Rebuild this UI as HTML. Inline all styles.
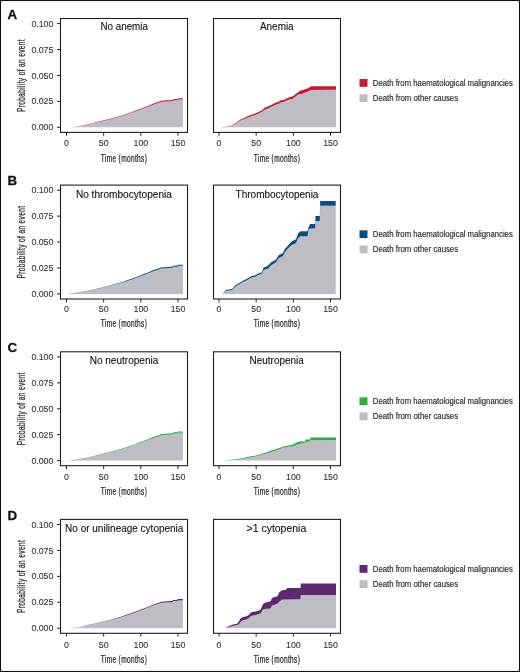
<!DOCTYPE html><html><head><meta charset="utf-8"><style>
html,body{margin:0;padding:0;background:#fff;}
svg{display:block;will-change:transform;}
text{font-family:"Liberation Sans",sans-serif;stroke-width:0.25px;}
</style></head><body>
<svg width="520" height="672" viewBox="0 0 520 672">
<rect x="0" y="0" width="520" height="672" fill="#fff"/>
<rect x="0.5" y="0.5" width="519" height="671" fill="none" stroke="#111" stroke-width="1.1"/>
<text x="7.6" y="18.7" font-size="13.3" font-weight="bold" style="stroke-width:0.3px" fill="#111" stroke="#111">A</text>
<text transform="translate(24.6,75.5) rotate(-90) scale(0.655,1)" font-size="10" letter-spacing="0.55" text-anchor="middle" fill="#231f20" stroke="#231f20">Probability of an event</text>
<polygon points="67.2,127.3 67.2,127.4 73.5,126.8 80,125.8 90,123.8 100,121.5 110,119 120,116.3 130,113 135,111.2 140,109.3 145,107.4 148,106.3 151.8,104.7 155.7,103.2 159.5,102.1 160.7,101.4 163.4,101.1 168,100.8 172.8,100.5 173.3,99.6 177.5,99.5 178,98.7 182.9,98.7 182.9,127.3" fill="#bebdc3"/>
<polygon points="67.2,127.4 73.5,126.77 80,125.73 90,123.68 100,121.33 110,118.78 120,116.04 130,112.7 135,110.87 140,108.93 145,107 148,105.88 151.8,104.25 155.7,102.73 159.5,101.6 160.7,100.9 163.4,100.59 168,100.28 172.8,99.97 173.3,99.07 177.5,98.97 178,98.16 182.9,98.15 182.9,99.25 178,99.24 177.5,100.03 173.3,100.13 172.8,101.03 168,101.32 163.4,101.61 160.7,101.9 159.5,102.6 155.7,103.67 151.8,105.15 148,106.72 145,107.8 140,109.67 135,111.53 130,113.3 120,116.56 110,119.22 100,121.67 90,123.92 80,125.87 73.5,126.83 67.2,127.4" fill="#c51b33"/>
<rect x="60.5" y="18.5" width="127" height="113.9" fill="none" stroke="#231f20" stroke-width="1.1"/>
<line x1="57" x2="60.5" y1="127.3" y2="127.3" stroke="#231f20" stroke-width="1"/>
<text x="53.4" y="130.4" font-size="8.8" text-anchor="end" style="stroke-width:0.1px" fill="#333" stroke="#333">0.000</text>
<line x1="57" x2="60.5" y1="101.38" y2="101.38" stroke="#231f20" stroke-width="1"/>
<text x="53.4" y="104.47" font-size="8.8" text-anchor="end" style="stroke-width:0.1px" fill="#333" stroke="#333">0.025</text>
<line x1="57" x2="60.5" y1="75.45" y2="75.45" stroke="#231f20" stroke-width="1"/>
<text x="53.4" y="78.55" font-size="8.8" text-anchor="end" style="stroke-width:0.1px" fill="#333" stroke="#333">0.050</text>
<line x1="57" x2="60.5" y1="49.53" y2="49.53" stroke="#231f20" stroke-width="1"/>
<text x="53.4" y="52.63" font-size="8.8" text-anchor="end" style="stroke-width:0.1px" fill="#333" stroke="#333">0.075</text>
<line x1="57" x2="60.5" y1="23.6" y2="23.6" stroke="#231f20" stroke-width="1"/>
<text x="53.4" y="26.7" font-size="8.8" text-anchor="end" style="stroke-width:0.1px" fill="#333" stroke="#333">0.100</text>
<line x1="66.5" x2="66.5" y1="132.4" y2="135.7" stroke="#231f20" stroke-width="1"/>
<text x="66.5" y="146.3" font-size="8.8" text-anchor="middle" style="stroke-width:0.1px" fill="#333" stroke="#333">0</text>
<line x1="103.67" x2="103.67" y1="132.4" y2="135.7" stroke="#231f20" stroke-width="1"/>
<text x="103.67" y="146.3" font-size="8.8" text-anchor="middle" style="stroke-width:0.1px" fill="#333" stroke="#333">50</text>
<line x1="140.84" x2="140.84" y1="132.4" y2="135.7" stroke="#231f20" stroke-width="1"/>
<text x="140.84" y="146.3" font-size="8.8" text-anchor="middle" style="stroke-width:0.1px" fill="#333" stroke="#333">100</text>
<line x1="178.01" x2="178.01" y1="132.4" y2="135.7" stroke="#231f20" stroke-width="1"/>
<text x="178.01" y="146.3" font-size="8.8" text-anchor="middle" style="stroke-width:0.1px" fill="#333" stroke="#333">150</text>
<text transform="translate(124,161.7) scale(0.655,1)" font-size="10" letter-spacing="0.55" text-anchor="middle" fill="#231f20" stroke="#231f20">Time (months)</text>
<text transform="translate(100.45,30) scale(1,1.03)" font-size="10" textLength="47.5" lengthAdjust="spacingAndGlyphs" style="stroke-width:0.1px" fill="#111" stroke="#111">No anemia</text>
<polygon points="222,127.3 222,127.4 226,126.9 230,126 233,125 236,123.5 238,122 241.5,120 245,118.7 250,116.7 255,115 257.5,114.2 260,112.7 262.5,111.5 264,110.1 269,108 274,105.5 276.5,104.2 279,103.7 280,102.7 284,101.7 286.5,100.5 290,99.3 293,98.7 295.5,96.5 298,94.5 301,94 303,93.5 305.5,92.5 308,91.5 310,90.5 311.5,90 336,89.8 336,127.3" fill="#bebdc3"/>
<polygon points="222,127.35 226,126.75 230,125.65 233,124.45 236,122.8 238,121.2 241.5,118.9 245,117.5 250,115.2 255,113.5 257.5,112.5 260,111.2 262.5,109.7 264,108.1 269,106 274,103.5 276.5,102.2 279,101.7 280,100.5 284,99.7 286.5,98.5 290,97 293,96.2 295.5,94 298,92.2 301,90.2 303,90 305.5,89 308,88.2 310,87 311.5,86.2 336,86.2 336,89.8 311.5,90 310,90.5 308,91.5 305.5,92.5 303,93.5 301,94 298,94.5 295.5,96.5 293,98.7 290,99.3 286.5,100.5 284,101.7 280,102.7 279,103.7 276.5,104.2 274,105.5 269,108 264,110.1 262.5,111.5 260,112.7 257.5,114.2 255,115 250,116.7 245,118.7 241.5,120 238,122 236,123.5 233,125 230,126 226,126.9 222,127.4" fill="#c51b33"/>
<rect x="213.5" y="18.5" width="127" height="113.9" fill="none" stroke="#231f20" stroke-width="1.1"/>
<line x1="219" x2="219" y1="132.4" y2="135.7" stroke="#231f20" stroke-width="1"/>
<text x="219" y="146.3" font-size="8.8" text-anchor="middle" style="stroke-width:0.1px" fill="#333" stroke="#333">0</text>
<line x1="256.17" x2="256.17" y1="132.4" y2="135.7" stroke="#231f20" stroke-width="1"/>
<text x="256.17" y="146.3" font-size="8.8" text-anchor="middle" style="stroke-width:0.1px" fill="#333" stroke="#333">50</text>
<line x1="293.34" x2="293.34" y1="132.4" y2="135.7" stroke="#231f20" stroke-width="1"/>
<text x="293.34" y="146.3" font-size="8.8" text-anchor="middle" style="stroke-width:0.1px" fill="#333" stroke="#333">100</text>
<line x1="330.51" x2="330.51" y1="132.4" y2="135.7" stroke="#231f20" stroke-width="1"/>
<text x="330.51" y="146.3" font-size="8.8" text-anchor="middle" style="stroke-width:0.1px" fill="#333" stroke="#333">150</text>
<text transform="translate(277,161.7) scale(0.655,1)" font-size="10" letter-spacing="0.55" text-anchor="middle" fill="#231f20" stroke="#231f20">Time (months)</text>
<text transform="translate(259.95,30) scale(1,1.03)" font-size="10" textLength="33.7" lengthAdjust="spacingAndGlyphs" style="stroke-width:0.1px" fill="#111" stroke="#111">Anemia</text>
<rect x="359.5" y="79" width="8" height="7.8" fill="#c51b33"/>
<rect x="359.5" y="94.2" width="8" height="7.8" fill="#bebdc3"/>
<text transform="translate(372.8,85.8) scale(1,1.07)" font-size="8.1" textLength="140" lengthAdjust="spacingAndGlyphs" style="stroke-width:0.15px" fill="#2a2a2a" stroke="#2a2a2a">Death from haematological malignancies</text>
<text transform="translate(372.8,101) scale(1,1.07)" font-size="8.1" textLength="85.3" lengthAdjust="spacingAndGlyphs" style="stroke-width:0.15px" fill="#2a2a2a" stroke="#2a2a2a">Death from other causes</text>
<text x="7.6" y="185.3" font-size="13.3" font-weight="bold" style="stroke-width:0.3px" fill="#111" stroke="#111">B</text>
<text transform="translate(24.6,242.1) rotate(-90) scale(0.655,1)" font-size="10" letter-spacing="0.55" text-anchor="middle" fill="#231f20" stroke="#231f20">Probability of an event</text>
<polygon points="67.2,293.9 67.2,294 73.5,293.4 80,292.4 90,290.4 100,288.1 110,285.6 120,282.9 130,279.6 135,277.8 140,275.9 145,274 148,272.9 151.8,271.3 155.7,269.8 159.5,268.7 160.7,268 163.4,267.7 168,267.4 172.8,267.1 173.3,266.2 177.5,266.1 178,265.3 182.9,265.3 182.9,293.9" fill="#bebdc3"/>
<polygon points="67.2,294 73.5,293.37 80,292.33 90,290.28 100,287.92 110,285.38 120,282.64 130,279.3 135,277.47 140,275.53 145,273.6 148,272.48 151.8,270.85 155.7,269.33 159.5,268.2 160.7,267.5 163.4,267.19 168,266.88 172.8,266.57 173.3,265.67 177.5,265.56 178,264.76 182.9,264.75 182.9,265.85 178,265.84 177.5,266.63 173.3,266.73 172.8,267.63 168,267.92 163.4,268.21 160.7,268.5 159.5,269.2 155.7,270.27 151.8,271.75 148,273.32 145,274.4 140,276.27 135,278.13 130,279.9 120,283.16 110,285.82 100,288.27 90,290.52 80,292.47 73.5,293.43 67.2,294" fill="#0d4b80"/>
<rect x="60.5" y="185.1" width="127" height="113.9" fill="none" stroke="#231f20" stroke-width="1.1"/>
<line x1="57" x2="60.5" y1="293.9" y2="293.9" stroke="#231f20" stroke-width="1"/>
<text x="53.4" y="297" font-size="8.8" text-anchor="end" style="stroke-width:0.1px" fill="#333" stroke="#333">0.000</text>
<line x1="57" x2="60.5" y1="267.97" y2="267.97" stroke="#231f20" stroke-width="1"/>
<text x="53.4" y="271.07" font-size="8.8" text-anchor="end" style="stroke-width:0.1px" fill="#333" stroke="#333">0.025</text>
<line x1="57" x2="60.5" y1="242.05" y2="242.05" stroke="#231f20" stroke-width="1"/>
<text x="53.4" y="245.15" font-size="8.8" text-anchor="end" style="stroke-width:0.1px" fill="#333" stroke="#333">0.050</text>
<line x1="57" x2="60.5" y1="216.12" y2="216.12" stroke="#231f20" stroke-width="1"/>
<text x="53.4" y="219.22" font-size="8.8" text-anchor="end" style="stroke-width:0.1px" fill="#333" stroke="#333">0.075</text>
<line x1="57" x2="60.5" y1="190.2" y2="190.2" stroke="#231f20" stroke-width="1"/>
<text x="53.4" y="193.3" font-size="8.8" text-anchor="end" style="stroke-width:0.1px" fill="#333" stroke="#333">0.100</text>
<line x1="66.5" x2="66.5" y1="299" y2="302.3" stroke="#231f20" stroke-width="1"/>
<text x="66.5" y="312" font-size="8.8" text-anchor="middle" style="stroke-width:0.1px" fill="#333" stroke="#333">0</text>
<line x1="103.67" x2="103.67" y1="299" y2="302.3" stroke="#231f20" stroke-width="1"/>
<text x="103.67" y="312" font-size="8.8" text-anchor="middle" style="stroke-width:0.1px" fill="#333" stroke="#333">50</text>
<line x1="140.84" x2="140.84" y1="299" y2="302.3" stroke="#231f20" stroke-width="1"/>
<text x="140.84" y="312" font-size="8.8" text-anchor="middle" style="stroke-width:0.1px" fill="#333" stroke="#333">100</text>
<line x1="178.01" x2="178.01" y1="299" y2="302.3" stroke="#231f20" stroke-width="1"/>
<text x="178.01" y="312" font-size="8.8" text-anchor="middle" style="stroke-width:0.1px" fill="#333" stroke="#333">150</text>
<text transform="translate(124,327.4) scale(0.655,1)" font-size="10" letter-spacing="0.55" text-anchor="middle" fill="#231f20" stroke="#231f20">Time (months)</text>
<text transform="translate(75.9,198) scale(1,1.03)" font-size="10" textLength="96" lengthAdjust="spacingAndGlyphs" style="stroke-width:0.1px" fill="#111" stroke="#111">No thrombocytopenia</text>
<polygon points="223,293.9 223,293.7 226,291 230,290.3 232,289.9 235,287 237.5,285.3 240,283.8 242.5,282.3 246,280.8 249,279 251.5,277.5 255.5,276.8 258,275 261,274.3 262.5,272.5 263.5,270 265.5,269.5 268,268.5 271.5,265 275.5,262.8 279,258 283,256 285,252 288,248.5 291,245.5 293,244.5 296,243 298,238.3 299.5,236.8 301,236.2 307.5,236.2 308.5,229.8 310,228.6 315.2,228.6 315.5,221 319.8,221 320.2,205.8 335.7,205.8 335.7,293.9" fill="#bebdc3"/>
<polygon points="223,293.6 226,290.1 230,289.3 232,288.9 235,285.8 237.5,284 240,282.5 242.5,281 246,279.3 249,277.8 251.5,276 255.5,275.3 258,273.5 261,272.8 262.5,270.8 263.5,267.5 265.5,267 268,265.5 271.5,262 275.5,260 279,255 283,253 285,248.8 288,245.5 291,242 293,240.8 296,239.3 298,233.5 299.5,232 301,231.2 307.5,231.2 308.5,227.5 310,223.9 315.2,223.9 315.5,216.1 319.8,216.1 320.2,200.9 335.7,200.9 335.7,205.8 320.2,205.8 319.8,221 315.5,221 315.2,228.6 310,228.6 308.5,229.8 307.5,236.2 301,236.2 299.5,236.8 298,238.3 296,243 293,244.5 291,245.5 288,248.5 285,252 283,256 279,258 275.5,262.8 271.5,265 268,268.5 265.5,269.5 263.5,270 262.5,272.5 261,274.3 258,275 255.5,276.8 251.5,277.5 249,279 246,280.8 242.5,282.3 240,283.8 237.5,285.3 235,287 232,289.9 230,290.3 226,291 223,293.7" fill="#0d4b80"/>
<rect x="213.5" y="185.1" width="127" height="113.9" fill="none" stroke="#231f20" stroke-width="1.1"/>
<line x1="219" x2="219" y1="299" y2="302.3" stroke="#231f20" stroke-width="1"/>
<text x="219" y="312" font-size="8.8" text-anchor="middle" style="stroke-width:0.1px" fill="#333" stroke="#333">0</text>
<line x1="256.17" x2="256.17" y1="299" y2="302.3" stroke="#231f20" stroke-width="1"/>
<text x="256.17" y="312" font-size="8.8" text-anchor="middle" style="stroke-width:0.1px" fill="#333" stroke="#333">50</text>
<line x1="293.34" x2="293.34" y1="299" y2="302.3" stroke="#231f20" stroke-width="1"/>
<text x="293.34" y="312" font-size="8.8" text-anchor="middle" style="stroke-width:0.1px" fill="#333" stroke="#333">100</text>
<line x1="330.51" x2="330.51" y1="299" y2="302.3" stroke="#231f20" stroke-width="1"/>
<text x="330.51" y="312" font-size="8.8" text-anchor="middle" style="stroke-width:0.1px" fill="#333" stroke="#333">150</text>
<text transform="translate(277,327.4) scale(0.655,1)" font-size="10" letter-spacing="0.55" text-anchor="middle" fill="#231f20" stroke="#231f20">Time (months)</text>
<text transform="translate(235.55,198) scale(1,1.03)" font-size="10" textLength="82.9" lengthAdjust="spacingAndGlyphs" style="stroke-width:0.1px" fill="#111" stroke="#111">Thrombocytopenia</text>
<rect x="359.5" y="230.3" width="8" height="7.8" fill="#0d4b80"/>
<rect x="359.5" y="245.5" width="8" height="7.8" fill="#bebdc3"/>
<text transform="translate(372.8,237.1) scale(1,1.07)" font-size="8.1" textLength="140" lengthAdjust="spacingAndGlyphs" style="stroke-width:0.15px" fill="#2a2a2a" stroke="#2a2a2a">Death from haematological malignancies</text>
<text transform="translate(372.8,252.3) scale(1,1.07)" font-size="8.1" textLength="85.3" lengthAdjust="spacingAndGlyphs" style="stroke-width:0.15px" fill="#2a2a2a" stroke="#2a2a2a">Death from other causes</text>
<text x="7.6" y="352" font-size="13.3" font-weight="bold" style="stroke-width:0.3px" fill="#111" stroke="#111">C</text>
<text transform="translate(24.6,408.8) rotate(-90) scale(0.655,1)" font-size="10" letter-spacing="0.55" text-anchor="middle" fill="#231f20" stroke="#231f20">Probability of an event</text>
<polygon points="67.2,460.6 67.2,460.7 73.5,460.1 80,459.1 90,457.1 100,454.8 110,452.3 120,449.6 130,446.3 135,444.5 140,442.6 145,440.7 148,439.6 151.8,438 155.7,436.5 159.5,435.4 160.7,434.7 163.4,434.4 168,434.1 172.8,433.8 173.3,432.9 177.5,432.8 178,432 182.9,432 182.9,460.6" fill="#bebdc3"/>
<polygon points="67.2,460.7 73.5,460.07 80,459.03 90,456.98 100,454.62 110,452.08 120,449.34 130,446 135,444.17 140,442.23 145,440.3 148,439.18 151.8,437.55 155.7,436.03 159.5,434.9 160.7,434.2 163.4,433.89 168,433.58 172.8,433.27 173.3,432.37 177.5,432.26 178,431.46 182.9,431.45 182.9,432.55 178,432.54 177.5,433.34 173.3,433.43 172.8,434.33 168,434.62 163.4,434.91 160.7,435.2 159.5,435.9 155.7,436.97 151.8,438.45 148,440.02 145,441.1 140,442.97 135,444.83 130,446.6 120,449.86 110,452.52 100,454.98 90,457.22 80,459.17 73.5,460.13 67.2,460.7" fill="#2aae40"/>
<rect x="60.5" y="351.8" width="127" height="113.9" fill="none" stroke="#231f20" stroke-width="1.1"/>
<line x1="57" x2="60.5" y1="460.6" y2="460.6" stroke="#231f20" stroke-width="1"/>
<text x="53.4" y="463.7" font-size="8.8" text-anchor="end" style="stroke-width:0.1px" fill="#333" stroke="#333">0.000</text>
<line x1="57" x2="60.5" y1="434.68" y2="434.68" stroke="#231f20" stroke-width="1"/>
<text x="53.4" y="437.78" font-size="8.8" text-anchor="end" style="stroke-width:0.1px" fill="#333" stroke="#333">0.025</text>
<line x1="57" x2="60.5" y1="408.75" y2="408.75" stroke="#231f20" stroke-width="1"/>
<text x="53.4" y="411.85" font-size="8.8" text-anchor="end" style="stroke-width:0.1px" fill="#333" stroke="#333">0.050</text>
<line x1="57" x2="60.5" y1="382.83" y2="382.83" stroke="#231f20" stroke-width="1"/>
<text x="53.4" y="385.93" font-size="8.8" text-anchor="end" style="stroke-width:0.1px" fill="#333" stroke="#333">0.075</text>
<line x1="57" x2="60.5" y1="356.9" y2="356.9" stroke="#231f20" stroke-width="1"/>
<text x="53.4" y="360" font-size="8.8" text-anchor="end" style="stroke-width:0.1px" fill="#333" stroke="#333">0.100</text>
<line x1="66.5" x2="66.5" y1="465.7" y2="469" stroke="#231f20" stroke-width="1"/>
<text x="66.5" y="479.6" font-size="8.8" text-anchor="middle" style="stroke-width:0.1px" fill="#333" stroke="#333">0</text>
<line x1="103.67" x2="103.67" y1="465.7" y2="469" stroke="#231f20" stroke-width="1"/>
<text x="103.67" y="479.6" font-size="8.8" text-anchor="middle" style="stroke-width:0.1px" fill="#333" stroke="#333">50</text>
<line x1="140.84" x2="140.84" y1="465.7" y2="469" stroke="#231f20" stroke-width="1"/>
<text x="140.84" y="479.6" font-size="8.8" text-anchor="middle" style="stroke-width:0.1px" fill="#333" stroke="#333">100</text>
<line x1="178.01" x2="178.01" y1="465.7" y2="469" stroke="#231f20" stroke-width="1"/>
<text x="178.01" y="479.6" font-size="8.8" text-anchor="middle" style="stroke-width:0.1px" fill="#333" stroke="#333">150</text>
<text transform="translate(124,495) scale(0.655,1)" font-size="10" letter-spacing="0.55" text-anchor="middle" fill="#231f20" stroke="#231f20">Time (months)</text>
<text transform="translate(89.65,364.1) scale(1,1.03)" font-size="10" textLength="68.7" lengthAdjust="spacingAndGlyphs" style="stroke-width:0.1px" fill="#111" stroke="#111">No neutropenia</text>
<polygon points="225,460.6 225,460.4 232,459.9 237,459.4 242,459 248,458.1 251,457.3 256,456.5 261,455 266,453.5 270,452.4 275,450.8 280,449 283.5,447.8 287.5,447 292.5,446.5 294,446.3 297,444.5 301.5,443.3 304.5,443 306,442 309.5,441.3 311,440.2 336,440 336,460.6" fill="#bebdc3"/>
<polygon points="225,460.25 232,459.65 237,459.05 242,458.15 248,457.05 251,456.25 256,455.45 261,453.95 266,452.45 270,451.05 275,449.45 280,447.75 283.5,446.45 287.5,445.75 292.5,444.8 294,444 297,442.3 301.5,441.3 304.5,441.7 306,439.3 309.5,439.7 311,437.5 336,437.5 336,440 311,440.2 309.5,441.3 306,442 304.5,443 301.5,443.3 297,444.5 294,446.3 292.5,446.5 287.5,447 283.5,447.8 280,449 275,450.8 270,452.4 266,453.5 261,455 256,456.5 251,457.3 248,458.1 242,459 237,459.4 232,459.9 225,460.4" fill="#2aae40"/>
<rect x="213.5" y="351.8" width="127" height="113.9" fill="none" stroke="#231f20" stroke-width="1.1"/>
<line x1="219" x2="219" y1="465.7" y2="469" stroke="#231f20" stroke-width="1"/>
<text x="219" y="479.6" font-size="8.8" text-anchor="middle" style="stroke-width:0.1px" fill="#333" stroke="#333">0</text>
<line x1="256.17" x2="256.17" y1="465.7" y2="469" stroke="#231f20" stroke-width="1"/>
<text x="256.17" y="479.6" font-size="8.8" text-anchor="middle" style="stroke-width:0.1px" fill="#333" stroke="#333">50</text>
<line x1="293.34" x2="293.34" y1="465.7" y2="469" stroke="#231f20" stroke-width="1"/>
<text x="293.34" y="479.6" font-size="8.8" text-anchor="middle" style="stroke-width:0.1px" fill="#333" stroke="#333">100</text>
<line x1="330.51" x2="330.51" y1="465.7" y2="469" stroke="#231f20" stroke-width="1"/>
<text x="330.51" y="479.6" font-size="8.8" text-anchor="middle" style="stroke-width:0.1px" fill="#333" stroke="#333">150</text>
<text transform="translate(277,495) scale(0.655,1)" font-size="10" letter-spacing="0.55" text-anchor="middle" fill="#231f20" stroke="#231f20">Time (months)</text>
<text transform="translate(249.6,364.1) scale(1,1.03)" font-size="10" textLength="54.2" lengthAdjust="spacingAndGlyphs" style="stroke-width:0.1px" fill="#111" stroke="#111">Neutropenia</text>
<rect x="359.5" y="397.3" width="8" height="7.8" fill="#2aae40"/>
<rect x="359.5" y="412.5" width="8" height="7.8" fill="#bebdc3"/>
<text transform="translate(372.8,404.1) scale(1,1.07)" font-size="8.1" textLength="140" lengthAdjust="spacingAndGlyphs" style="stroke-width:0.15px" fill="#2a2a2a" stroke="#2a2a2a">Death from haematological malignancies</text>
<text transform="translate(372.8,419.3) scale(1,1.07)" font-size="8.1" textLength="85.3" lengthAdjust="spacingAndGlyphs" style="stroke-width:0.15px" fill="#2a2a2a" stroke="#2a2a2a">Death from other causes</text>
<text x="7.6" y="519.6" font-size="13.3" font-weight="bold" style="stroke-width:0.3px" fill="#111" stroke="#111">D</text>
<text transform="translate(24.6,576.4) rotate(-90) scale(0.655,1)" font-size="10" letter-spacing="0.55" text-anchor="middle" fill="#231f20" stroke="#231f20">Probability of an event</text>
<polygon points="67.2,628.2 67.2,628.3 73.5,627.7 80,626.7 90,624.7 100,622.4 110,619.9 120,617.2 130,613.9 135,612.1 140,610.2 145,608.3 148,607.2 151.8,605.6 155.7,604.1 159.5,603 160.7,602.3 163.4,602 168,601.7 172.8,601.4 173.3,600.5 177.5,600.4 178,599.6 182.9,599.6 182.9,628.2" fill="#bebdc3"/>
<polygon points="67.2,628.3 73.5,627.67 80,626.63 90,624.58 100,622.22 110,619.68 120,616.94 130,613.6 135,611.77 140,609.83 145,607.9 148,606.78 151.8,605.15 155.7,603.63 159.5,602.5 160.7,601.8 163.4,601.49 168,601.18 172.8,600.87 173.3,599.97 177.5,599.86 178,599.06 182.9,599.05 182.9,600.15 178,600.14 177.5,600.93 173.3,601.03 172.8,601.93 168,602.22 163.4,602.51 160.7,602.8 159.5,603.5 155.7,604.57 151.8,606.05 148,607.62 145,608.7 140,610.57 135,612.43 130,614.2 120,617.46 110,620.12 100,622.57 90,624.82 80,626.77 73.5,627.73 67.2,628.3" fill="#5c296f"/>
<rect x="60.5" y="519.4" width="127" height="113.9" fill="none" stroke="#231f20" stroke-width="1.1"/>
<line x1="57" x2="60.5" y1="628.2" y2="628.2" stroke="#231f20" stroke-width="1"/>
<text x="53.4" y="631.3" font-size="8.8" text-anchor="end" style="stroke-width:0.1px" fill="#333" stroke="#333">0.000</text>
<line x1="57" x2="60.5" y1="602.27" y2="602.27" stroke="#231f20" stroke-width="1"/>
<text x="53.4" y="605.38" font-size="8.8" text-anchor="end" style="stroke-width:0.1px" fill="#333" stroke="#333">0.025</text>
<line x1="57" x2="60.5" y1="576.35" y2="576.35" stroke="#231f20" stroke-width="1"/>
<text x="53.4" y="579.45" font-size="8.8" text-anchor="end" style="stroke-width:0.1px" fill="#333" stroke="#333">0.050</text>
<line x1="57" x2="60.5" y1="550.42" y2="550.42" stroke="#231f20" stroke-width="1"/>
<text x="53.4" y="553.52" font-size="8.8" text-anchor="end" style="stroke-width:0.1px" fill="#333" stroke="#333">0.075</text>
<line x1="57" x2="60.5" y1="524.5" y2="524.5" stroke="#231f20" stroke-width="1"/>
<text x="53.4" y="527.6" font-size="8.8" text-anchor="end" style="stroke-width:0.1px" fill="#333" stroke="#333">0.100</text>
<line x1="66.5" x2="66.5" y1="633.3" y2="636.6" stroke="#231f20" stroke-width="1"/>
<text x="66.5" y="647.5" font-size="8.8" text-anchor="middle" style="stroke-width:0.1px" fill="#333" stroke="#333">0</text>
<line x1="103.67" x2="103.67" y1="633.3" y2="636.6" stroke="#231f20" stroke-width="1"/>
<text x="103.67" y="647.5" font-size="8.8" text-anchor="middle" style="stroke-width:0.1px" fill="#333" stroke="#333">50</text>
<line x1="140.84" x2="140.84" y1="633.3" y2="636.6" stroke="#231f20" stroke-width="1"/>
<text x="140.84" y="647.5" font-size="8.8" text-anchor="middle" style="stroke-width:0.1px" fill="#333" stroke="#333">100</text>
<line x1="178.01" x2="178.01" y1="633.3" y2="636.6" stroke="#231f20" stroke-width="1"/>
<text x="178.01" y="647.5" font-size="8.8" text-anchor="middle" style="stroke-width:0.1px" fill="#333" stroke="#333">150</text>
<text transform="translate(124,662.9) scale(0.655,1)" font-size="10" letter-spacing="0.55" text-anchor="middle" fill="#231f20" stroke="#231f20">Time (months)</text>
<text transform="translate(65.1,531.8) scale(1,1.03)" font-size="10" textLength="118.3" lengthAdjust="spacingAndGlyphs" style="stroke-width:0.1px" fill="#111" stroke="#111">No or unilineage cytopenia</text>
<polygon points="226.5,628.2 226.5,628.3 229,627 231.5,626.3 234,625.8 237,625.3 238.5,624.5 240.5,622 242.5,620.5 246.5,619.5 249,618 251,616 255.5,615 260.5,613.5 263,609.5 264.5,609 270.5,608.5 272,605.5 274,605 277.5,603.5 279.5,601.5 282,599.8 286,599.5 287.3,599.5 300.5,599.3 300.8,595 336,595 336,628.2" fill="#bebdc3"/>
<polygon points="226.5,627.6 229,626 231.5,625 234,624.3 237,623.8 238.5,622 240.5,618.5 242.5,617.3 246.5,616.3 249,614.8 251,612.3 255.5,611.5 260.5,610 263,604 264.5,603 270.5,601.3 272,598 274,597.3 277.5,596.3 279.5,592 282,590.3 286,589.8 287.3,588 300.5,588 300.8,583.5 336,583.5 336,595 300.8,595 300.5,599.3 287.3,599.5 286,599.5 282,599.8 279.5,601.5 277.5,603.5 274,605 272,605.5 270.5,608.5 264.5,609 263,609.5 260.5,613.5 255.5,615 251,616 249,618 246.5,619.5 242.5,620.5 240.5,622 238.5,624.5 237,625.3 234,625.8 231.5,626.3 229,627 226.5,628.3" fill="#5c296f"/>
<rect x="213.5" y="519.4" width="127" height="113.9" fill="none" stroke="#231f20" stroke-width="1.1"/>
<line x1="219" x2="219" y1="633.3" y2="636.6" stroke="#231f20" stroke-width="1"/>
<text x="219" y="647.5" font-size="8.8" text-anchor="middle" style="stroke-width:0.1px" fill="#333" stroke="#333">0</text>
<line x1="256.17" x2="256.17" y1="633.3" y2="636.6" stroke="#231f20" stroke-width="1"/>
<text x="256.17" y="647.5" font-size="8.8" text-anchor="middle" style="stroke-width:0.1px" fill="#333" stroke="#333">50</text>
<line x1="293.34" x2="293.34" y1="633.3" y2="636.6" stroke="#231f20" stroke-width="1"/>
<text x="293.34" y="647.5" font-size="8.8" text-anchor="middle" style="stroke-width:0.1px" fill="#333" stroke="#333">100</text>
<line x1="330.51" x2="330.51" y1="633.3" y2="636.6" stroke="#231f20" stroke-width="1"/>
<text x="330.51" y="647.5" font-size="8.8" text-anchor="middle" style="stroke-width:0.1px" fill="#333" stroke="#333">150</text>
<text transform="translate(277,662.9) scale(0.655,1)" font-size="10" letter-spacing="0.55" text-anchor="middle" fill="#231f20" stroke="#231f20">Time (months)</text>
<text transform="translate(246.55,531.8) scale(1,1.03)" font-size="10" textLength="59.7" lengthAdjust="spacingAndGlyphs" style="stroke-width:0.1px" fill="#111" stroke="#111">&gt;1 cytopenia</text>
<rect x="359.5" y="565" width="8" height="7.8" fill="#5c296f"/>
<rect x="359.5" y="580.2" width="8" height="7.8" fill="#bebdc3"/>
<text transform="translate(372.8,571.8) scale(1,1.07)" font-size="8.1" textLength="140" lengthAdjust="spacingAndGlyphs" style="stroke-width:0.15px" fill="#2a2a2a" stroke="#2a2a2a">Death from haematological malignancies</text>
<text transform="translate(372.8,587) scale(1,1.07)" font-size="8.1" textLength="85.3" lengthAdjust="spacingAndGlyphs" style="stroke-width:0.15px" fill="#2a2a2a" stroke="#2a2a2a">Death from other causes</text>
</svg></body></html>
